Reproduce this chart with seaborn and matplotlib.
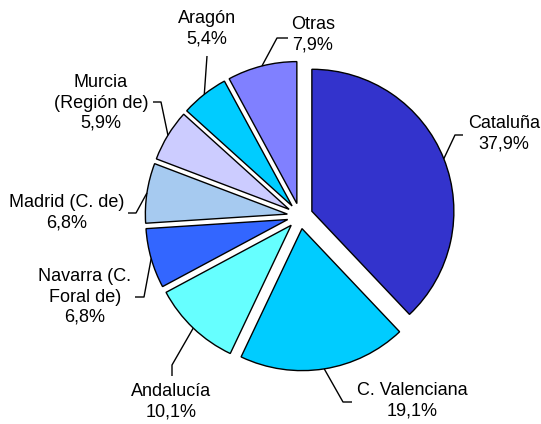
import numpy as np
import matplotlib
matplotlib.use("Agg")
import matplotlib.pyplot as plt
import seaborn as sns

# Data
regions = ["Cataluña", "C. Valenciana", "Andalucía", "Navarra (C.\nForal de)",
           "Madrid (C. de)", "Murcia\n(Región de)", "Aragón", "Otras"]
shares = [37.9, 19.1, 10.1, 6.8, 6.8, 5.9, 5.4, 7.9]
colors = ["#3333CC", "#00CCFF", "#66FFFF", "#3366FF",
          "#A6CAF0", "#CCCCFF", "#00CCFF", "#8080FF"]

# Layout (pixels of the 541x424 canvas): pie centre, radius
W, H = 541, 424
CX, CY, R = 300, 216, 142

# label block centres and leader elbow/end points, in pixels
label_pos = [(504, 134), (412, 401), (171, 402), (85, 297),
             (67, 213), (101, 103), (207, 29), (313, 35)]
leader = [((455, 135), (463, 135)), ((343, 402), (352, 402)),
          ((172, 365), (172, 376)), ((144, 297), (135, 297)),
          ((136, 213), (128, 213)), ((161, 102), (153, 102)),
          ((207, 56), (207, 56)), ((277, 38), (288, 38))]


def to_data(p):
    return ((p[0] - CX) / R, (CY - p[1]) / R)


sns.set_theme(style="white")
plt.rcParams["font.family"] = ["Liberation Sans", "DejaVu Sans"]

fig = plt.figure(figsize=(W / 100, H / 100), dpi=100)
ax = fig.add_axes([0, 0, 1, 1])

explode = [0.09] * len(shares)
wedges, _ = ax.pie(shares, colors=colors, startangle=90, counterclock=False,
                   explode=explode, radius=1,
                   wedgeprops=dict(edgecolor="black", linewidth=1.0))

ax.set_xlim(-CX / R, (W - CX) / R)
ax.set_ylim((CY - H) / R, CY / R)
ax.set_aspect("equal")
ax.axis("off")

for w, name, val, pos, (elbow, end) in zip(wedges, regions, shares, label_pos, leader):
    mid = np.deg2rad((w.theta1 + w.theta2) / 2)
    cx, cy = w.center
    anchor = (cx + w.r * np.cos(mid), cy + w.r * np.sin(mid))
    e1 = to_data(elbow)
    e2 = to_data(end)
    ax.plot([anchor[0], e1[0], e2[0]], [anchor[1], e1[1], e2[1]],
            color="black", lw=1.0, solid_capstyle="butt")
    tx, ty = to_data(pos)
    pct = f"{val:.1f}%".replace(".", ",")
    ax.text(tx, ty, f"{name}\n{pct}", color="black",
            ha="center", va="center", fontsize=13, linespacing=1.25)

fig.savefig("out.png", dpi=100, facecolor="white")
